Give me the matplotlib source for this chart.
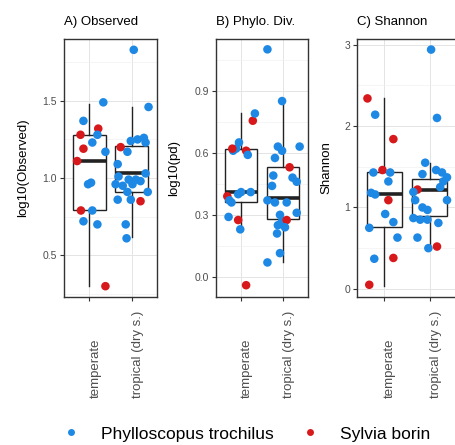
import matplotlib
matplotlib.use("Agg")
import matplotlib.pyplot as plt
import matplotlib.transforms as mtransforms
from matplotlib.lines import Line2D
from matplotlib.ticker import MultipleLocator

plt.rcParams['font.family'] = ['Liberation Sans', 'DejaVu Sans']

habitats = ["temperate", "tropical (dry s.)"]
species_names = ["Phylloscopus trochilus", "Sylvia borin"]
species_colors = {"P": "#1E88E5", "S": "#D7191C"}

# A) Observed -- one string/list per habitat (P = P. trochilus, S = S. borin)
obs_sp = ["PPSSPPSPSPPSPPPS", "PPSPPPPPPPPPPPPPPPPPPSPP"]
obs_dx = [[-0.14, 0.33, -0.21, 0.21, 0.19, 0.07, -0.14, 0.38, -0.29, -0.03, 0.04, -0.20, 0.07, -0.14, 0.19, 0.38],
          [0.05, 0.40, -0.26, -0.10, -0.02, 0.14, 0.29, 0.33, -0.33, -0.31, -0.38, -0.21, -0.07, 0.02, 0.10, 0.21,
           0.33, 0.38, -0.10, -0.02, -0.33, 0.21, -0.14, -0.12]]
obs_val = [[1.37, 1.49, 1.28, 1.32, 1.28, 1.23, 1.19, 1.17, 1.11, 0.96, 0.97, 0.79, 0.79, 0.72, 0.70, 0.30],
           [1.83, 1.46, 1.20, 1.17, 1.24, 1.25, 1.26, 1.23, 1.09, 1.01, 0.96, 0.95, 0.99, 0.96, 0.99, 0.98,
            1.03, 0.91, 0.91, 0.86, 0.86, 0.85, 0.70, 0.61]]
# whisker low, q1, median, q3, whisker high
obs_box = [[0.30, 0.79, 1.11, 1.28, 1.48], [0.62, 0.91, 1.03, 1.21, 1.46]]

# B) Phylo. Div.
pd_sp = ["SPPPPSSPSPPPPPPSPS", "PPPPPPSPPPPPPPPPPSPPPPP"]
pd_dx = [[0.28, 0.33, -0.05, -0.12, -0.19, -0.21, 0.12, 0.16, -0.33, -0.28, -0.07, 0.0, 0.23, -0.23, -0.30, -0.07,
          -0.02, 0.12],
         [-0.37, -0.02, -0.12, -0.02, 0.40, -0.19, 0.16, -0.23, 0.23, 0.33, -0.26, -0.37, -0.19, 0.09, 0.33, -0.07,
          -0.02, 0.09, -0.12, 0.05, -0.14, -0.07, -0.37]]
pd_val = [[0.755, 0.79, 0.65, 0.62, 0.61, 0.62, 0.61, 0.59, 0.39, 0.37, 0.40, 0.41, 0.41, 0.36, 0.29, 0.275,
           0.23, -0.04],
          [1.10, 0.85, 0.63, 0.61, 0.63, 0.575, 0.53, 0.49, 0.48, 0.46, 0.44, 0.37, 0.36, 0.36, 0.31, 0.30,
           0.27, 0.275, 0.25, 0.24, 0.21, 0.115, 0.07]]
pd_box = [[0.23, 0.36, 0.41, 0.62, 0.79], [0.07, 0.28, 0.38, 0.53, 0.85]]

# C) Shannon
sh_sp = ["SPSSPPPPPSPPPPPSS", "PPPPPPPPPSPPPPPPPPPPPS"]
sh_dx = [[-0.37, -0.20, 0.20, -0.04, 0.13, -0.24, 0.09, -0.29, -0.20, 0.09, 0.02, 0.20, -0.33, 0.29, -0.22,
          0.20, -0.33],
         [0.03, 0.16, -0.10, -0.16, 0.14, 0.27, 0.38, 0.30, 0.23, -0.27, -0.36, -0.32, 0.38, -0.16, -0.05, -0.36,
          -0.21, -0.05, 0.19, -0.27, -0.03, 0.16]]
sh_val = [[2.34, 2.14, 1.84, 1.46, 1.43, 1.43, 1.32, 1.18, 1.16, 1.09, 0.92, 0.82, 0.75, 0.63, 0.37, 0.38, 0.05],
          [2.94, 2.10, 1.55, 1.41, 1.46, 1.43, 1.37, 1.32, 1.25, 1.22, 1.19, 1.09, 1.09, 1.00, 0.97, 0.87,
           0.85, 0.85, 0.81, 0.63, 0.50, 0.52]]
sh_box = [[0.03, 0.76, 1.17, 1.44, 2.35], [0.50, 0.89, 1.22, 1.35, 1.55]]

W, H = 456, 445
fig = plt.figure(figsize=(W / 100, H / 100), dpi=100)

panels = [
    ("A) Observed", "log10(Observed)", obs_sp, obs_dx, obs_val, obs_box, (0.23, 1.90), 0.5, 0.25, 64, 93, -0.38),
    ("B) Phylo. Div.", "log10(pd)", pd_sp, pd_dx, pd_val, pd_box, (-0.097, 1.15), 0.3, 0.15, 216, 92, -0.39),
    ("C) Shannon", "Shannon", sh_sp, sh_dx, sh_val, sh_box, (-0.10, 3.07), 1.0, 0.5, 357, 100, -0.25),
]

top_px, bot_px = 39, 297
for title, ylab, sp, dx, val, box, ylim, major, minor, left_px, w_px, ylab_x in panels:
    ax = fig.add_axes([left_px / W, 1 - bot_px / H, w_px / W, (bot_px - top_px) / H])
    ax.set_xlim(0.4, 2.6)
    ax.set_ylim(*ylim)

    stats = [dict(whislo=b[0], q1=b[1], med=b[2], q3=b[3], whishi=b[4], fliers=[]) for b in box]
    ax.bxp(stats, positions=[1, 2], widths=0.78, showfliers=False, patch_artist=True, showcaps=False,
           boxprops=dict(facecolor="white", edgecolor="#222222", linewidth=1.0),
           whiskerprops=dict(color="#222222", linewidth=1.0),
           medianprops=dict(color="#222222", linewidth=2.6, solid_capstyle="butt"), zorder=2)

    for g in range(2):
        xs = [g + 1 + d for d in dx[g]]
        cols = [species_colors[s] for s in sp[g]]
        ax.scatter(xs, val[g], c=cols, s=38, linewidths=0, zorder=3)

    ax.yaxis.set_major_locator(MultipleLocator(major))
    ax.yaxis.set_minor_locator(MultipleLocator(minor))
    ax.set_xticks([1, 2])
    ax.set_xticklabels([])
    ax.grid(True, which="major", color="#e4e4e4", linewidth=0.7, zorder=0)
    ax.grid(True, which="minor", axis="y", color="#f1f1f1", linewidth=0.5, zorder=0)
    ax.set_axisbelow(True)
    ax.tick_params(axis="both", which="major", length=3, width=0.8, color="#333333",
                   labelsize=7.5, labelcolor="#4d4d4d", pad=2)
    ax.tick_params(axis="y", which="minor", length=0)
    for s in ax.spines.values():
        s.set_color("#333333")
        s.set_linewidth(1.0)

    ax.set_title(title, loc="left", fontsize=9.5, pad=10)
    ax.set_ylabel(ylab, fontsize=9.5)
    ax.yaxis.set_label_coords(ylab_x, 0.5)

    trans = mtransforms.blended_transform_factory(ax.transData, ax.transAxes)
    for i, lab in enumerate(habitats):
        ax.text(i + 1, -(398 - bot_px) / (bot_px - top_px), lab, rotation=90, ha="left", va="bottom",
                fontsize=9.5, color="#4d4d4d", transform=trans)

handles = [Line2D([], [], marker="o", linestyle="", markersize=5, markeredgewidth=0, color=species_colors[k])
           for k in ("P", "S")]
fig.legend(handles, species_names, loc="center", bbox_to_anchor=(0.54, 1 - 434 / H), ncol=2, frameon=False,
           fontsize=12.5, handlelength=1.0, handletextpad=1.2, columnspacing=1.6)

fig.savefig("out.png", dpi=100)
